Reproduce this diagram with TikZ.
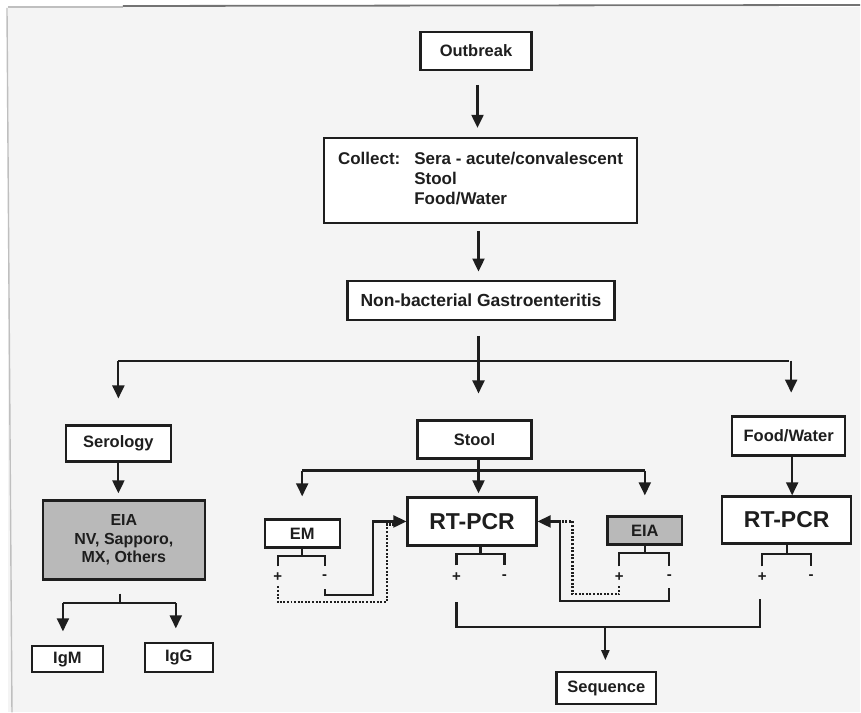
\documentclass[tikz,border=0pt]{standalone}
\usepackage{fontspec}
\setmainfont{Liberation Sans}
\usetikzlibrary{arrows.meta,calc}
\definecolor{ink}{HTML}{1E1E1E}
\definecolor{boxgray}{HTML}{B9B9B9}
\definecolor{paper}{HTML}{F4F4F4}
\begin{document}
\begin{tikzpicture}[x=1pt,y=-1pt,
  box/.style={draw=ink, line width=2.3pt, fill=white, text=ink, inner sep=0pt,
    font=\bfseries\fontsize{16.5}{19}\selectfont, align=center},
  gbox/.style={box, fill=boxgray},
  big/.style={box, font=\bfseries\fontsize{23}{26}\selectfont},
  conn/.style={draw=ink, line width=2.1pt},
  arr/.style={conn, -{Triangle[width=12pt,length=13pt]}},
  sarr/.style={conn, -{Triangle[width=8pt,length=10pt]}},
  dots/.style={draw=ink, line width=2.2pt, dash pattern=on 2pt off 1.6pt},
  sign/.style={font=\bfseries\fontsize{15}{15}\selectfont, inner sep=0pt, text=ink}]

% paper and scan frame
\fill[white] (0,0) rectangle (861,713);
\fill[paper] (8,7) rectangle (861,713);
\draw[black!25, line width=1.2pt] (8,7) -- (123,7);
\draw[black!55, line width=1.8pt] (123,6) -- (861,5);
\draw[black!25, line width=1.4pt] (7,8) -- (12,713);

% nodes
\node[box, minimum width=111pt, minimum height=38pt] (out) at (476.5,51) {Outbreak};
\node[box, minimum width=314pt, minimum height=85pt, font=\bfseries\fontsize{17}{20}\selectfont] (collect) at (481,180.5)
  {\begin{tabular}{@{}l@{\hspace{14pt}}l@{}}Collect: & Sera - acute/convalescent\\ & Stool\\ & Food/Water\end{tabular}};
\node[box, minimum width=267pt, minimum height=39pt, font=\bfseries\fontsize{17.5}{20}\selectfont] (nonbac) at (481.5,300.5) {Non-bacterial Gastroenteritis};
\node[box, minimum width=105pt, minimum height=36pt] (serology) at (118.5,444) {Serology};
\node[box, minimum width=114pt, minimum height=38pt] (stool) at (475,440) {Stool};
\node[box, minimum width=113pt, minimum height=39pt] (food) at (789.5,436.5) {Food/Water};
\node[gbox, minimum width=162pt, minimum height=79pt, font=\bfseries\fontsize{16}{18.5}\selectfont] (eiaS) at (124,540.5) {EIA\\NV, Sapporo,\\MX, Others};
\node[box, minimum width=71pt, minimum height=26pt] (igm) at (67.5,660) {IgM};
\node[box, minimum width=68pt, minimum height=29pt] (igg) at (179,658.5) {IgG};
\node[box, minimum width=75pt, minimum height=28pt] (em) at (302.5,534) {EM};
\node[big, minimum width=129pt, minimum height=48pt] (rtpcr1) at (472.5,522) {RT-PCR};
\node[gbox, minimum width=75pt, minimum height=28pt] (eiaT) at (645.5,531) {EIA};
\node[big, minimum width=129pt, minimum height=47pt] (rtpcr2) at (787.5,520.5) {RT-PCR};
\node[box, minimum width=100pt, minimum height=32pt] (seq) at (607,689) {Sequence};

% signs
\node[sign] (emP) at (278,578) {+};
\node[sign] (emM) at (325,578) {-};
\node[sign] (r1P) at (457,578) {+};
\node[sign] (r1M) at (505,578) {-};
\node[sign] (eP)  at (620,578) {+};
\node[sign] (eM)  at (670,578) {-};
\node[sign] (r2P) at (763,578) {+};
\node[sign] (r2M) at (812,578) {-};

% junction coordinates
\coordinate (nbj) at (479,361);
\coordinate (sj) at (479,471);
\coordinate (ej) at (120,604);
\coordinate (mj) at (606,628);

% top chain
\draw[arr, shorten <=15pt, shorten >=10pt] (478,70) -- (478,138);
\draw[arr, shorten <=7pt, shorten >=8pt] (collect.south -| nbj) -- (nonbac.north -| nbj);

% three-way split
\draw[conn, shorten <=15pt] (nonbac.south -| nbj) -- (nbj);
\draw[conn] (serology.north |- nbj) -- (food.north |- nbj);
\draw[arr, shorten >=26pt] (serology.north |- nbj) -- (serology.north);
\draw[arr, shorten >=26pt] (nbj) -- (nbj |- stool.north);
\draw[arr, shorten >=24pt] (792,361) -- (792,417);

% serology branch
\draw[arr, shorten >=6pt] (serology.south) -- (serology.south |- eiaS.north);
\draw[conn, shorten <=13pt] (eiaS.south -| ej) -- (ej);
\draw[conn] (63,604) -- (176,604);
\draw[arr, shorten >=15pt] (63,604) -- (63,647);
\draw[arr, shorten >=15pt] (176,604) -- (176,644);

% stool branch
\draw[conn] (stool.south -| sj) -- (sj);
\draw[conn] (em.north |- sj) -- (eiaT.north |- sj);
\draw[arr, shorten >=22pt] (em.north |- sj) -- (em.north);
\draw[arr, shorten >=3pt] (sj) -- (sj |- rtpcr1.north);
\draw[arr, shorten >=20pt] (eiaT.north |- sj) -- (eiaT.north);

% food branch
\draw[arr] (food.south -| 793,0) -- (rtpcr2.north -| 793,0);

% brackets
\draw[conn] (em.south) -- ++(0,7) coordinate (emH);
\draw[conn] ($(emP)+(0,-11)$) |- (emH) -| ($(emM)+(0,-11)$);
\coordinate (r1H) at (481,555);
\draw[conn] (r1H |- rtpcr1.south) -- (r1H);
\draw[conn] ($(r1P)+(0,-12)$) |- (r1H) -| ($(r1M)+(0,-12)$);
\draw[conn] (eiaT.south) -- ++(0,7) coordinate (eH);
\draw[conn] ($(eP)+(0,-11)$) |- (eH) -| ($(eM)+(0,-11)$);
\draw[conn] (rtpcr2.south) -- ++(0,9) coordinate (r2H);
\draw[conn] ($(r2P)+(0,-11)$) |- (r2H) -| ($(r2M)+(0,-11)$);

% feedback loops into RT-PCR
\draw[dots, shorten >=10pt] ($(emP)+(0,9)$) |- (387,603) |- ([yshift=-3pt]rtpcr1.west);
\draw[arr] ($(emM)+(0,12)$) |- (373,596) |- (rtpcr1.west);
\draw[dots, shorten >=10pt] ($(eP)+(0,9)$) |- (573,595) |- (rtpcr1.east);
\draw[arr] ($(eM)+(0,11)$) |- (561,602) |- (rtpcr1.east);

% positives to sequence
\draw[conn] ($(r1P)+(0,25)$) |- ($(r2P)+(-2,50)$) -- ($(r2P)+(-2,22)$);
\draw[sarr, shorten >=11pt] (mj) -- (mj |- seq.north);
\end{tikzpicture}
\end{document}
